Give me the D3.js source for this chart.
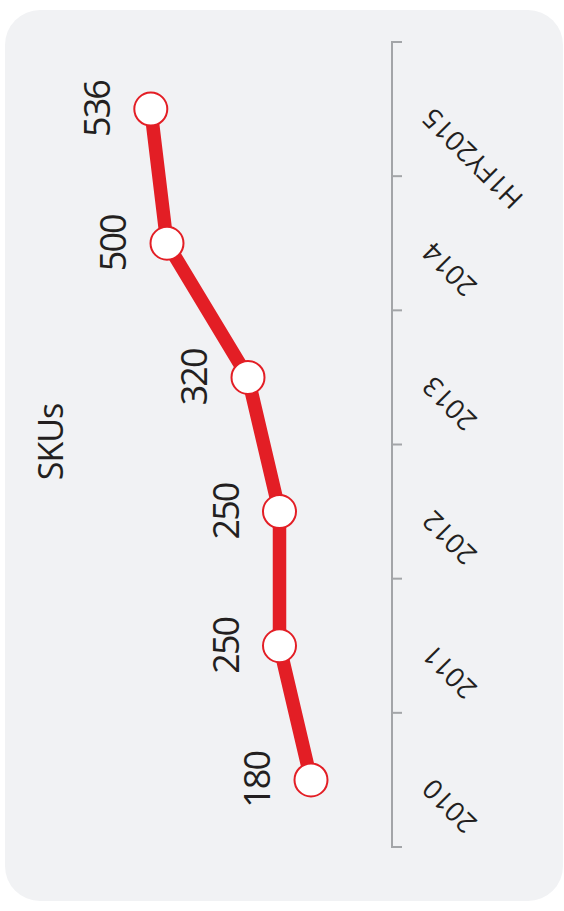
<!DOCTYPE html>
<html>
<head>
<meta charset="utf-8">
<script src="https://cdn.jsdelivr.net/npm/d3@7"></script>
<style>
  html, body { margin: 0; padding: 0; background: #ffffff; }
  svg { display: block; }
  text { font-family: "Open Sans", "Noto Sans", sans-serif; fill: #231f20; }
</style>
</head>
<body>
<script>
// SKU count per period
const categories = ["2010", "2011", "2012", "2013", "2014", "H1FY2015"];
const skuValues = [180, 250, 250, 320, 500, 536];
const valueLabels = ["180", "250", "250", "320", "500", "536"];
const axisTitle = "SKUs";

const W = 564, H = 911;
const svg = d3.select("body").append("svg").attr("width", W).attr("height", H);

// Panel background
svg.append("rect")
  .attr("x", 5).attr("y", 10)
  .attr("width", 558).attr("height", 891)
  .attr("rx", 35).attr("ry", 35)
  .attr("fill", "#f1f2f4");

// Chart is laid out sideways: periods run bottom-to-top, values grow leftward
const y = d3.scaleBand().domain(categories).range([847, 42]).padding(0);
const x = d3.scaleLinear().domain([0, 600]).range([392, 122]);

const data = categories.map((c, i) => ({ cat: c, value: skuValues[i], label: valueLabels[i] }));

// Category axis: baseline with ticks at band boundaries
const axisG = svg.append("g").attr("stroke", "#a3a5a8").attr("stroke-width", 2);
axisG.append("line")
  .attr("x1", x(0)).attr("x2", x(0))
  .attr("y1", y.range()[0]).attr("y2", y.range()[1]);
const bounds = categories.map(c => y(c) + y.bandwidth()).concat([y(categories[categories.length - 1])]);
axisG.selectAll("line.tick").data(bounds).join("line")
  .attr("class", "tick")
  .attr("x1", x(0) - 1).attr("x2", x(0) + 10)
  .attr("y1", d => d).attr("y2", d => d);

// Category labels
svg.append("g").selectAll("text").data(categories).join("text")
  .attr("transform", d => `translate(${x(0) + 42},${y(d) + y.bandwidth() / 2 - 3}) rotate(-135)`)
  .attr("text-anchor", "end")
  .attr("font-size", 27.5)
  .text(d => d);

// Line
const line = d3.line()
  .x(d => x(d.value))
  .y(d => y(d.cat) + y.bandwidth() / 2);

svg.append("path")
  .datum(data)
  .attr("d", line)
  .attr("fill", "none")
  .attr("stroke", "#e31e25")
  .attr("stroke-width", 13.5)
  .attr("stroke-linejoin", "round");

// Markers
svg.append("g").selectAll("circle").data(data).join("circle")
  .attr("cx", d => x(d.value))
  .attr("cy", d => y(d.cat) + y.bandwidth() / 2)
  .attr("r", 16.5)
  .attr("fill", "#ffffff")
  .attr("stroke", "#e31e25")
  .attr("stroke-width", 2);

// Value labels
svg.append("g").selectAll("text").data(data).join("text")
  .attr("transform", d => `translate(${x(d.value) - 41},${y(d.cat) + y.bandwidth() / 2}) rotate(-90)`)
  .attr("text-anchor", "middle")
  .attr("font-size", 36)
  .attr("letter-spacing", -2)
  .text(d => d.label);

// Axis title
svg.append("text")
  .attr("transform", `translate(63,442) rotate(-90)`)
  .attr("text-anchor", "middle")
  .attr("font-size", 34)
  .attr("letter-spacing", -1)
  .text(axisTitle);
</script>
</body>
</html>
